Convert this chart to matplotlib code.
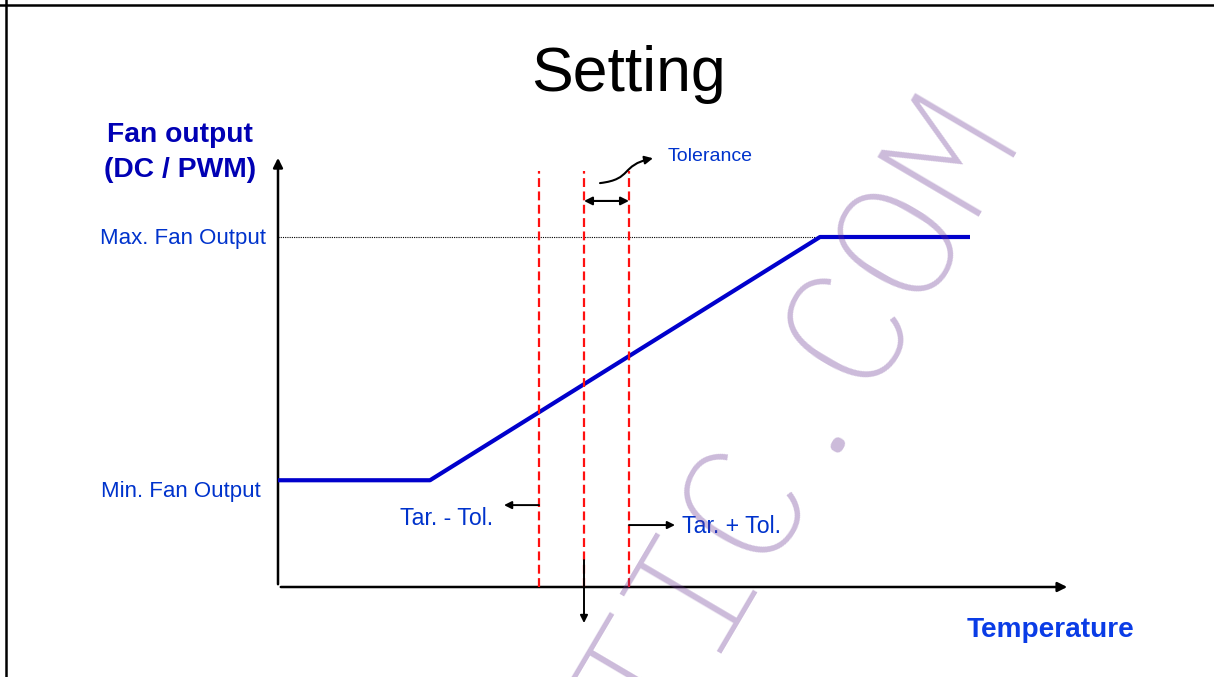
import matplotlib
matplotlib.use("Agg")
import matplotlib.pyplot as plt
from matplotlib.lines import Line2D
from matplotlib.patches import FancyArrowPatch
from matplotlib.path import Path

# fan curve: temperature (arbitrary units) vs fan output (%)
temp_points = [0, 15.2, 54.2, 69.2]
output_points = [30.5, 30.5, 100, 100]
min_output = 30.5
max_output = 100
target = 30.6
tolerance = 4.5

label_blue = "#0033cc"
title_blue = "#0000b4"
line_blue = "#0000cc"

plt.rcParams['font.family'] = ['Liberation Sans', 'DejaVu Sans']

fig = plt.figure(figsize=(12.14, 6.77), dpi=100)
ax = fig.add_axes([0, 0, 1, 1])
ax.axis('off')
# 10 px per temperature unit, 3.5 px per % output, origin at (278, 587) px
ax.set_xlim(-27.8, 93.6)
ax.set_ylim(-90 / 3.5, 587 / 3.5)

# frame of the slide
fig.add_artist(Line2D([0, 1], [1 - 5 / 677] * 2, color='black', lw=1.8, transform=fig.transFigure))
fig.add_artist(Line2D([6 / 1214] * 2, [0, 1], color='black', lw=1.8, transform=fig.transFigure))

# axes with arrows
ax.annotate('', xy=(79.2, 0), xytext=(0, 0),
            arrowprops=dict(arrowstyle='-|>', color='black', lw=1.8, mutation_scale=14), zorder=3)
ax.annotate('', xy=(0, 123.4), xytext=(0, 0),
            arrowprops=dict(arrowstyle='-|>', color='black', lw=1.8, mutation_scale=14), zorder=3)

# max output guide
ax.plot([0, temp_points[2]], [max_output, max_output], color='black', lw=0.8, ls=(0, (1, 1)), zorder=2)

# fan curve
ax.plot(temp_points, output_points, color=line_blue, lw=3, solid_capstyle='butt', zorder=4)

# target / tolerance lines
for t in [target - tolerance, target, target + tolerance]:
    ax.plot([t, t], [0, 118.8], color='#ff1010', lw=1.6, dashes=(4, 2), zorder=5)

# tolerance double arrow
ax.annotate('', xy=(target + tolerance, 110.3), xytext=(target, 110.3),
            arrowprops=dict(arrowstyle='<|-|>', color='black', lw=1.5, mutation_scale=12,
                            shrinkA=0, shrinkB=0), zorder=6)
curve = Path([(32.2, 115.4), (35.5, 116.5), (34.2, 120.5), (37.5, 122.5)],
             [Path.MOVETO, Path.CURVE4, Path.CURVE4, Path.CURVE4])
ax.add_patch(FancyArrowPatch(path=curve, arrowstyle='-|>', color='black', lw=1.5, mutation_scale=12,
                             zorder=6))
ax.text(39, 123.1, "Tolerance", color=label_blue, fontsize=14, ha='left', va='center')

# Tar. - Tol. / Tar. + Tol.
ax.annotate('', xy=(target - tolerance - 3.5, 23.4), xytext=(target - tolerance, 23.4),
            arrowprops=dict(arrowstyle='-|>', color='black', lw=1.4, mutation_scale=11,
                            shrinkA=0, shrinkB=0), zorder=6)
ax.text(12.2, 19.7, "Tar. - Tol.", color=label_blue, fontsize=16.7, ha='left', va='center')
ax.annotate('', xy=(target + tolerance + 4.6, 17.7), xytext=(target + tolerance, 17.7),
            arrowprops=dict(arrowstyle='-|>', color='black', lw=1.4, mutation_scale=11,
                            shrinkA=0, shrinkB=0), zorder=6)
ax.text(40.4, 17.4, "Tar. + Tol.", color=label_blue, fontsize=16.7, ha='left', va='center')

# target arrow down
ax.annotate('', xy=(target, -10.3), xytext=(target, 7.7),
            arrowprops=dict(arrowstyle='-|>', color='black', lw=1.4, mutation_scale=11,
                            shrinkA=0, shrinkB=0), zorder=6)

# y labels
ax.text(-1.2, max_output - 0.5, "Max. Fan Output", color=label_blue, fontsize=16, ha='right', va='center')
ax.text(-1.7, min_output - 3.3, "Min. Fan Output", color=label_blue, fontsize=16, ha='right', va='center')
ax.text(-9.8, 129.1, "Fan output", color=title_blue, fontsize=20.3, fontweight='bold', ha='center', va='center')
ax.text(-9.8, 119.1, "(DC / PWM)", color=title_blue, fontsize=20.3, fontweight='bold', ha='center', va='center')

# x label
ax.text(77.2, -12.3, "Temperature", color="#0a3ce6", fontsize=20.2, fontweight='bold', ha='center', va='center')

# title
fig.text(629 / 1214, 1 - 75 / 677, "Setting", ha='center', va='center', fontsize=45, color='black')

# watermark (translucent, on top)
ax.text(52.3, 48.3, "TIC.COM", rotation=59.5, rotation_mode='anchor', ha='center', va='center',
        fontsize=122, family='IBM Plex Mono', fontweight=200, color='#643090', alpha=0.33, zorder=10)

plt.savefig('out.png', dpi=100)
